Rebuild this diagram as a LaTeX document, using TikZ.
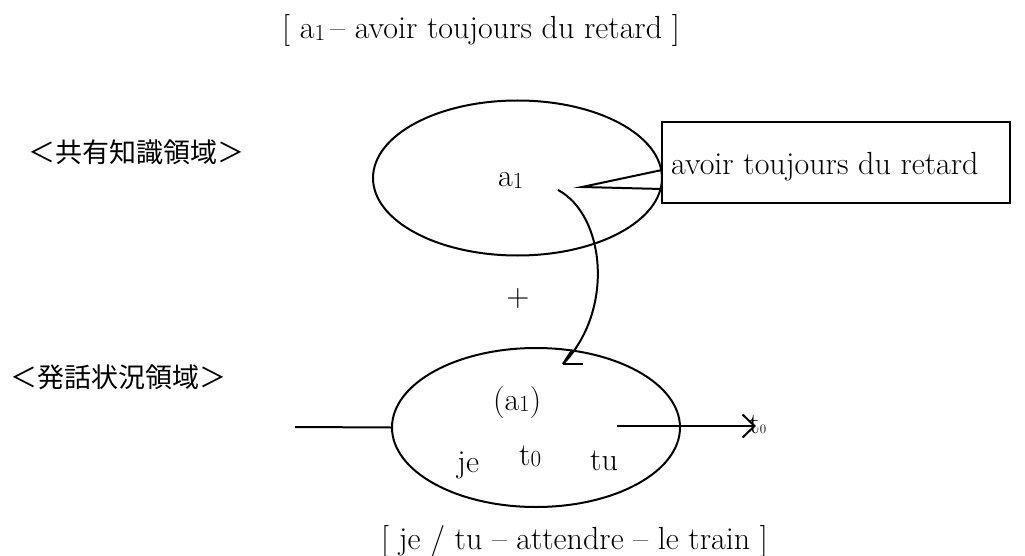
\documentclass[tikz,border=0pt]{standalone}
\usepackage{fontspec}
\newfontfamily\jpfont{Noto Sans CJK JP}
\usetikzlibrary{arrows.meta,shapes.geometric}
\newcommand{\subdig}[1]{\raisebox{-0.06em}{\fontsize{23}{23}\selectfont #1}}
\tikzset{
  main/.style={font=\fontsize{32}{36}\selectfont, inner sep=0pt},
  jp/.style={font=\jpfont\fontsize{27}{32}\selectfont, inner sep=0pt},
  shape line/.style={line width=2pt},
  domainell/.style={draw, ellipse, shape line, inner sep=0pt},
}
\begin{document}
\begin{tikzpicture}[x=1pt,y=-1pt]
\useasboundingbox (0,0) rectangle (1025,556);
% titles
\node[main, anchor=base west] (title) at (282,39) {[ a\subdig{1}\,– avoir toujours du retard ]};
\node[main, anchor=base west] (bottitle) at (381,549) {[ je / tu – attendre – le train ]};
% domain labels
\node[jp, anchor=west] (lab1) at (28,152) {＜共有知識領域＞};
\node[jp, anchor=west] (lab2) at (10,377) {＜発話状況領域＞};
% top ellipse
\node[domainell, minimum width=289, minimum height=155] (top) at (517.5,178) {};
\node[main, anchor=base west] (a1) at (498,187) {a\subdig{1}};
% callout box
\node[draw, shape line, minimum width=348, minimum height=81, inner sep=0pt] (box) at (836,162.5) {};
\node[main, anchor=base west] (boxtxt) at (671,175) {avoir toujours du retard};
\coordinate (ptip) at (582,187);
\coordinate (pu) at (662,170);
\coordinate (pl) at (662,189);
\draw[shape line] (pu) -- (ptip) -- (pl);
% plus
\node[main] (plus) at (518,299) {+};
% bottom ellipse
\node[domainell, minimum width=288, minimum height=159] (bot) at (536,427.5) {};
\node[main, anchor=base west] (pa1) at (493,410) {(a\subdig{1})};
\node[main, anchor=base west] (je) at (457,472) {je};
\node[main, anchor=base west] (t0) at (519,465) {t\subdig{0}};
\node[main, anchor=base west] (tu) at (590,470) {tu};
% time axis
\coordinate (axl) at (295,427);
\draw[shape line] (axl) -- (bot.west);
\coordinate (axs) at (617,426);
\coordinate (axe) at (756,426);
\draw[shape line, -{Straight Barb[length=12pt,width=23pt,line width=2pt]}] (axs) -- (axe);
\node[font=\fontsize{30}{32}\selectfont, inner sep=0pt, anchor=base west] (tend) at (749,433) {t\raisebox{-0.02em}{\fontsize{13}{13}\selectfont 0}};
% curved arrow
\coordinate (cs) at (558,190);
\coordinate (ce) at (563,364);
\draw[shape line] (cs) .. controls (605,215) and (615,310) .. (ce);
\draw[shape line] (ce) -- ++(20,0);
\draw[shape line] (ce) -- ++(9,-14);
\end{tikzpicture}
\end{document}
